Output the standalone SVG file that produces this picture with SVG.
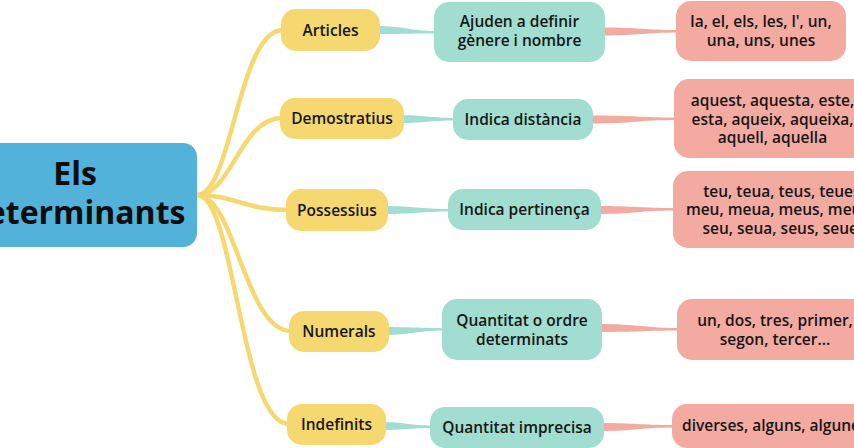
<svg xmlns="http://www.w3.org/2000/svg" width="854" height="448" viewBox="0 0 854 448">
<style>
text{font-family:"Open Sans","Noto Sans","Liberation Sans",sans-serif;fill:#161616;text-anchor:middle}
.t{font-size:15.5px;font-weight:600}
.root{font-size:32px;font-weight:700;fill:#0d0d0d}
.blue{fill:#52b2da}
.yel{fill:#f6d870}
.teal{fill:#a1ddd0}
.pink{fill:#f2aaa1}
.ycon{fill:none;stroke:#f6d870;stroke-width:4.5;stroke-linecap:round}
</style>
<rect width="854" height="448" fill="#ffffff"/>
<g id="connectors">
<path class="ycon" d="M197,195 C232,195 238,30 283,30"/>
<path class="ycon" d="M197,195 C232,195 240,118 282,118"/>
<path class="ycon" d="M197,195 C235,195 245,210 288,210"/>
<path class="ycon" d="M197,195 C235,195 245,331 291,331"/>
<path class="ycon" d="M197,195 C235,195 240,424 289,424"/>
<path class="teal" d="M375,26 C405,26 410,31 436,31 L436,33.5 C410,33.5 405,34 375,34 Z"/>
<path class="teal" d="M399,115 C425,115 430,118 455,118 L455,120.5 C430,120.5 425,123 399,123 Z"/>
<path class="teal" d="M383,206 C415,206 420,209 450,209 L450,211.5 C420,211.5 415,214 383,214 Z"/>
<path class="teal" d="M384,327 C412,327 418,328 444,328 L444,330.5 C418,330.5 412,335 384,335 Z"/>
<path class="teal" d="M381,422 C405,422 410,425.5 432,425.5 L432,428 C410,428 405,430 381,430 Z"/>
<path class="pink" d="M600,27.5 C640,27.5 645,30 678,30 L678,32.5 C645,32.5 640,35.5 600,35.5 Z"/>
<path class="pink" d="M588,115.5 C635,115.5 640,117.5 676,117.5 L676,120 C640,120 635,123.5 588,123.5 Z"/>
<path class="pink" d="M596,206 C635,206 640,208 675,208 L675,210.5 C640,210.5 635,214 596,214 Z"/>
<path class="pink" d="M597,324 C640,324 645,328 679,328 L679,330.5 C645,330.5 640,332 597,332 Z"/>
<path class="pink" d="M599,423 C635,423 640,425 674,425 L674,427.5 C640,427.5 635,431 599,431 Z"/>
</g>
<g id="root">
<rect class="blue" x="-40" y="143" width="237" height="104" rx="14"/>
<text class="root" x="75" y="185">Els</text>
<text class="root" x="76" y="224">determinants</text>
</g>
<g id="articles">
<rect class="yel" x="281" y="9" width="99" height="42" rx="15"/>
<text class="t" x="330.5" y="35.5">Articles</text>
</g>
<g id="demostratius">
<rect class="yel" x="280" y="98" width="124" height="41" rx="15"/>
<text class="t" x="342" y="124">Demostratius</text>
</g>
<g id="possessius">
<rect class="yel" x="286" y="189" width="102" height="42" rx="15"/>
<text class="t" x="337" y="215.5">Possessius</text>
</g>
<g id="numerals">
<rect class="yel" x="289" y="311" width="100" height="41" rx="15"/>
<text class="t" x="339" y="337">Numerals</text>
</g>
<g id="indefinits">
<rect class="yel" x="287" y="404" width="99" height="41" rx="15"/>
<text class="t" x="336.5" y="430">Indefinits</text>
</g>
<g id="ajuden">
<rect class="teal" x="434" y="2" width="171" height="60" rx="15"/>
<text class="t" x="519.5" y="27">Ajuden a definir</text>
<text class="t" x="519.5" y="46">gènere i nombre</text>
</g>
<g id="distancia">
<rect class="teal" x="453" y="99" width="140" height="41" rx="15"/>
<text class="t" x="523" y="125">Indica distància</text>
</g>
<g id="pertinenca">
<rect class="teal" x="448" y="189" width="153" height="41" rx="15"/>
<text class="t" x="524.5" y="215">Indica pertinença</text>
</g>
<g id="quantitat-ordre">
<rect class="teal" x="442" y="299" width="160" height="61" rx="15"/>
<text class="t" x="522" y="326">Quantitat o ordre</text>
<text class="t" x="522" y="344.5">determinats</text>
</g>
<g id="quantitat-imprecisa">
<rect class="teal" x="430" y="407" width="174" height="41" rx="15"/>
<text class="t" x="517" y="433">Quantitat imprecisa</text>
</g>
<g id="articles-ex">
<rect class="pink" x="676" y="1" width="170" height="60" rx="15"/>
<text class="t" x="761" y="27">la, el, els, les, l', un,</text>
<text class="t" x="761" y="45.5">una, uns, unes</text>
</g>
<g id="demostratius-ex">
<rect class="pink" x="674" y="79" width="200" height="79" rx="15"/>
<text class="t" x="772.5" y="106">aquest, aquesta, este,</text>
<text class="t" x="772.5" y="124.5">esta, aqueix, aqueixa,</text>
<text class="t" x="772.5" y="143">aquell, aquella</text>
</g>
<g id="possessius-ex">
<rect class="pink" x="673" y="171" width="222" height="77" rx="15"/>
<text class="t" x="784" y="196.5">teu, teua, teus, teues,</text>
<text class="t" x="784" y="215">meu, meua, meus, meues,</text>
<text class="t" x="784" y="233.5">seu, seua, seus, seues</text>
</g>
<g id="numerals-ex">
<rect class="pink" x="677" y="299" width="196" height="61" rx="15"/>
<text class="t" x="775" y="326">un, dos, tres, primer,</text>
<text class="t" x="775" y="344.5">segon, tercer...</text>
</g>
<g id="indefinits-ex">
<rect class="pink" x="672" y="404" width="220" height="44" rx="15"/>
<text class="t" x="682" y="431" style="text-anchor:start">diverses, alguns, algunes</text>
</g>
</svg>
